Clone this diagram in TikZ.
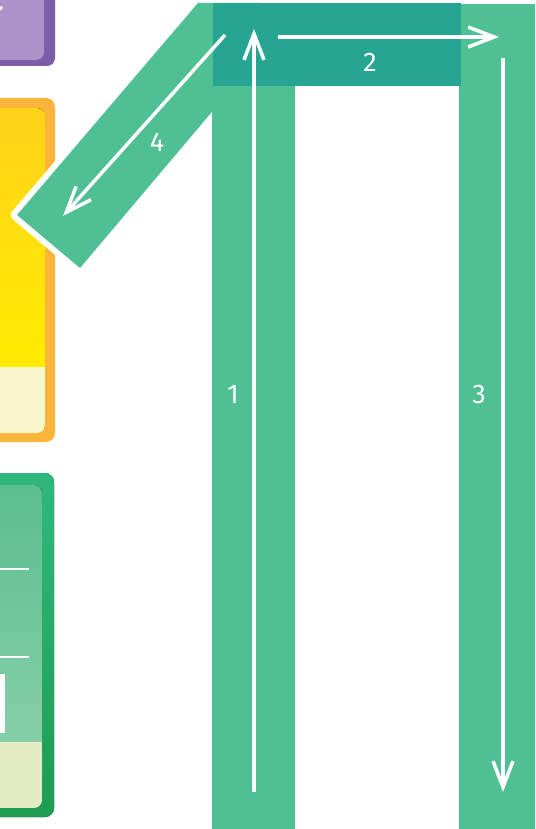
\documentclass[tikz,border=0pt]{standalone}
\usepackage{fontspec}
\setmainfont{Fira Sans}
\usepackage{xcolor}
\definecolor{bandgreen}{RGB}{79,191,148}
\definecolor{topteal}{RGB}{39,165,147}
\definecolor{purpdark}{RGB}{123,94,167}
\definecolor{purplight}{RGB}{172,146,199}
\definecolor{yelborder}{RGB}{252,180,58}
\definecolor{yeltop}{RGB}{255,211,26}
\definecolor{yelbot}{RGB}{255,236,0}
\definecolor{yelpale}{RGB}{247,246,204}
\definecolor{grnborder}{RGB}{47,184,124}
\definecolor{grnborderdk}{RGB}{30,157,82}
\definecolor{grninner}{RGB}{91,190,142}
\definecolor{grninnerlt}{RGB}{134,207,168}
\definecolor{grnpale}{RGB}{228,237,193}
\usetikzlibrary{arrows.meta}

\begin{document}
\begin{tikzpicture}[x=1pt, y=-1pt,
  band/.style={fill=bandgreen, draw=none},
  flowline/.style={white, line width=3.5pt, -{Straight Barb[length=26pt, width=20pt]}},
  steplabel/.style={text=white, font=\fontsize{27}{32}\selectfont, inner sep=0pt}]
  \useasboundingbox (0,0) rectangle (535,829);
  \clip (0,0) rectangle (535,829);

  % --- Left cards (cut off at the edge) ---
  % purple card
  \fill[purpdark, rounded corners=8pt] (-40,-20) rectangle (55,66);
  \fill[purplight, rounded corners=8pt] (-40,-20) rectangle (44,60);
  \draw[white, line width=2.5pt] (-4,13) -- (2,7);
  % yellow card
  \fill[yelborder, rounded corners=9pt] (-40,98) rectangle (55,442);
  \begin{scope}
    \clip[rounded corners=8pt] (-40,108) rectangle (45,433);
    \fill[top color=yeltop, bottom color=yelbot] (-40,108) rectangle (45,367);
    \fill[yelpale] (-40,367) rectangle (45,433);
  \end{scope}
  % green card
  \fill[top color=grnborder, bottom color=grnborderdk, rounded corners=9pt] (-40,473) rectangle (54,817);
  \begin{scope}
    \clip[rounded corners=8pt] (-40,485) rectangle (42,808);
    \fill[top color=grninner, bottom color=grninnerlt] (-40,485) rectangle (42,742);
    \fill[grnpale] (-40,742) rectangle (42,808);
  \end{scope}
  \draw[white, line width=2pt] (-5,569) -- (29,569);
  \draw[white, line width=2pt] (-5,657) -- (29,657);
  \fill[white] (-20,674) rectangle (5,733);

  % --- Diagonal band (step 4) ---
  \draw[white, line width=12pt, line join=round]
    (198,3) -- (17,215) -- (80,268) -- (260,55) -- (260,3) -- cycle;
  \fill[bandgreen] (198,3) -- (17,215) -- (80,268) -- (260,55) -- (260,3) -- cycle;

  % --- Vertical bands and top bar ---
  \fill[band] (212,60) rectangle (295,829);
  \fill[band] (459,4) rectangle (535,829);
  \fill[topteal] (213,3) rectangle (461,86);

  % --- Flow arrows ---
  \coordinate (s1) at (254,792);
  \coordinate (e1) at (254,29);
  \coordinate (s2) at (278,37);
  \coordinate (e2) at (499,37);
  \coordinate (s3) at (503,58);
  \coordinate (e3) at (503,792);
  \coordinate (s4) at (225,35);
  \coordinate (e4) at (63,216);
  \draw[flowline] (s1) -- (e1);
  \draw[flowline] (s2) -- (e2);
  \draw[flowline] (s3) -- (e3);
  \draw[flowline] (s4) -- (e4);

  % --- Step numbers ---
  \node[steplabel] (n1) at (233,394) {1};
  \node[steplabel] (n2) at (370,62) {2};
  \node[steplabel] (n3) at (479,394) {3};
  \node[steplabel] (n4) at (157,142) {4};
\end{tikzpicture}
\end{document}
